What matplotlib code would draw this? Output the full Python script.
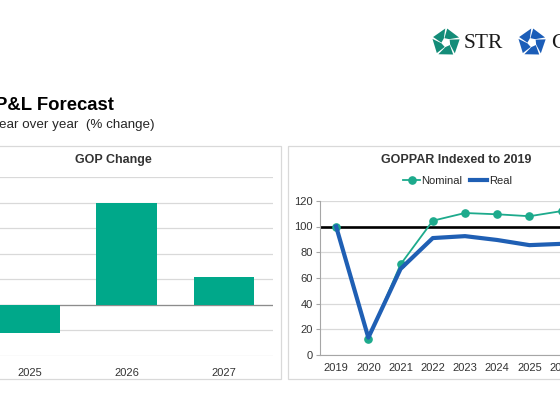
import numpy as np
import matplotlib
matplotlib.use("Agg")
import matplotlib.pyplot as plt
from matplotlib.patches import Rectangle, Polygon

plt.rcParams['font.family'] = ['Liberation Sans', 'DejaVu Sans']

# data
gop_years = ["2025", "2026", "2027"]
gop_change = [-1.1, 4.0, 1.1]

goppar_years = ["2019", "2020", "2021", "2022", "2023", "2024", "2025", "2026"]
nominal = [100, 12.5, 70.5, 104.5, 110.5, 109.5, 108, 112]
real = [100, 13.5, 67, 91, 92.5, 89.5, 85.5, 86.5]

TEAL = "#00A88A"
TEAL_LINE = "#1DAA8C"
BLUE = "#1F5FB4"
GRID = "#D9D9D9"
TXT = "#333333"

W, H = 560, 420


def px_box(x0, y0, x1, y1):
    # pixel rect (top-left origin) -> figure fraction
    return [x0 / W, 1 - y1 / H, (x1 - x0) / W, (y1 - y0) / H]


def draw_logo(ax, cx, cy, r, color):
    for k in range(5):
        a = np.deg2rad(90 + 72 * k)
        outer = [a + np.deg2rad(3), a + np.deg2rad(67)]
        inner = [a + np.deg2rad(92), a + np.deg2rad(28)]
        pts = [(cx + r * np.cos(t), cy - r * np.sin(t)) for t in outer]
        pts += [(cx + 0.33 * r * np.cos(t), cy - 0.33 * r * np.sin(t)) for t in inner]
        ax.add_patch(Polygon(pts, closed=True, fc=color, ec="none"))


fig = plt.figure(figsize=(5.6, 4.2), dpi=100)

# background layer in pixel coords
bg = fig.add_axes([0, 0, 1, 1])
bg.set_xlim(0, W)
bg.set_ylim(H, 0)
bg.axis("off")

bg.add_patch(Rectangle((-60, 146), 341, 233, fill=False, ec=GRID, lw=0.9))
bg.add_patch(Rectangle((287.5, 146), 400, 233, fill=False, ec=GRID, lw=0.9))

bg.text(-5, 105, "P&L Forecast", fontsize=13.3, fontweight="bold", color="black",
        ha="left", va="center")
bg.text(-1, 125, "ear over year  (% change)", fontsize=9.6, color="#262626",
        ha="left", va="center")

bg.text(113, 160, "GOP Change", fontsize=9, fontweight="bold", color=TXT,
        ha="center", va="center")
bg.text(456, 160, "GOPPAR Indexed to 2019", fontsize=9, fontweight="bold", color=TXT,
        ha="center", va="center")

draw_logo(bg, 446, 42.5, 14, "#138C78")
bg.text(464, 44, "STR", fontsize=15.5, family="Liberation Serif", color="#1a1a1a",
        ha="left", va="center")
draw_logo(bg, 532, 42.5, 14, "#1B5DB8")
bg.text(551, 44, "C", fontsize=15.5, family="Liberation Serif", color="#1a1a1a",
        ha="left", va="center")

# left chart: GOP change bars
ax1 = fig.add_axes(px_box(-19.3, 177, 272.7, 355.7))
ax1.patch.set_alpha(0)
xb = np.arange(len(gop_years))
ax1.bar(xb, gop_change, width=0.625, color=TEAL, zorder=3)
ax1.set_xlim(-0.5, 2.5)
ax1.set_ylim(-2, 5)
ax1.set_yticks(range(-2, 6))
ax1.yaxis.grid(True, color=GRID, lw=0.9)
ax1.set_axisbelow(True)
ax1.axhline(0, color="#8C8C8C", lw=0.9, zorder=2)
for s in ax1.spines.values():
    s.set_visible(False)
ax1.set_xticks(xb)
ax1.set_xticklabels(gop_years)
ax1.tick_params(left=False, labelleft=False, bottom=False, pad=5.5,
                labelsize=8, labelcolor=TXT)

# right chart: GOPPAR indexed
ax2 = fig.add_axes(px_box(320, 200.8, 610, 355))
ax2.patch.set_alpha(0)
xl = np.arange(len(goppar_years))
ax2.axhline(100, color="black", lw=1.9, zorder=2)
l_nom, = ax2.plot(xl, nominal, color=TEAL_LINE, lw=1.3, marker="o", ms=5.2,
                  zorder=3, label="Nominal")
l_real, = ax2.plot(xl, real, color=BLUE, lw=3, zorder=4, label="Real")
ax2.set_xlim(-0.5, 8.5)
ax2.set_ylim(0, 120)
ax2.set_yticks(range(0, 121, 20))
ax2.yaxis.grid(True, color=GRID, lw=0.9)
ax2.set_axisbelow(True)
ax2.spines["top"].set_visible(False)
ax2.spines["right"].set_visible(False)
ax2.spines["left"].set_color("#A6A6A6")
ax2.spines["bottom"].set_color("#A6A6A6")
ax2.set_xticks(xl)
ax2.set_xticklabels(goppar_years)
ax2.tick_params(axis="y", length=3, color="#A6A6A6", pad=2,
                labelsize=8, labelcolor=TXT)
ax2.tick_params(axis="x", length=0, pad=5.5, labelsize=8, labelcolor=TXT)
ax2.legend(handles=[l_nom, l_real], loc="center",
           bbox_to_anchor=(457.5 / W, 1 - 181 / H), bbox_transform=fig.transFigure,
           ncol=2, frameon=False, fontsize=8, handlelength=1.5,
           handletextpad=0.15, columnspacing=0.7, labelcolor="#262626")

fig.savefig("out.png", dpi=100)
